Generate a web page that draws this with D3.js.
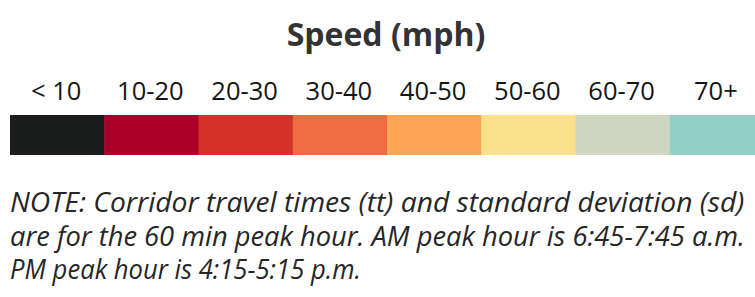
<!DOCTYPE html>
<html>
<head>
<meta charset="utf-8">
<script src="https://cdn.jsdelivr.net/npm/d3@7/dist/d3.min.js"></script>
<style>
  html, body { margin: 0; padding: 0; background: #fff; }
  svg { display: block; }
</style>
</head>
<body>
<svg id="chart" width="755" height="297"></svg>
<script>
const title = "Speed (mph)";
const categories = ["< 10", "10-20", "20-30", "30-40", "40-50", "50-60", "60-70", "70+"];
const colors = ["#1b1c1c", "#ab0128", "#d6302a", "#f06b40", "#fca555", "#fbe08a", "#cfd6c0", "#93cfc7"];
const noteLines = [
  "NOTE: Corridor travel times (tt) and standard deviation (sd)",
  "are for the 60 min peak hour. AM peak hour is 6:45-7:45 a.m.",
  "PM peak hour is 4:15-5:15 p.m."
];
const noteWidths = [735, 735, 351];

const svg = d3.select("#chart");

const x = d3.scaleBand().domain(categories).range([10, 764]).paddingInner(0).paddingOuter(0);

svg.append("text")
  .attr("x", 386).attr("y", 46)
  .attr("text-anchor", "middle")
  .attr("font-family", "'Open Sans', sans-serif")
  .attr("font-weight", 700)
  .attr("font-size", 32)
  .attr("fill", "#333333")
  .text(title);

svg.append("g").selectAll("text")
  .data(categories).join("text")
  .attr("x", d => x(d) + x.bandwidth() / 2 - 1)
  .attr("y", 100)
  .attr("text-anchor", "middle")
  .attr("font-family", "'Open Sans', sans-serif")
  .attr("font-size", 25.5)
  .attr("fill", "#141414")
  .text(d => d);

svg.append("g").selectAll("rect")
  .data(categories).join("rect")
  .attr("x", d => x(d))
  .attr("y", 115)
  .attr("width", x.bandwidth() + 0.5)
  .attr("height", 40)
  .attr("fill", (d, i) => colors[i]);

const notes = svg.append("g").selectAll("g")
  .data(noteLines).join("g");
notes.append("text")
  .attr("x", 0)
  .attr("y", 0)
  .attr("font-family", "'Open Sans', sans-serif")
  .attr("font-style", "italic")
  .attr("font-size", 26)
  .attr("fill", "#262626")
  .text(d => d);
notes.attr("transform", function(d, i) {
  const w = this.querySelector("text").getComputedTextLength();
  const sx = noteWidths[i] / w;
  return `translate(10,${212 + i * 33.5}) scale(${sx},1.05)`;
});
</script>
</body>
</html>
